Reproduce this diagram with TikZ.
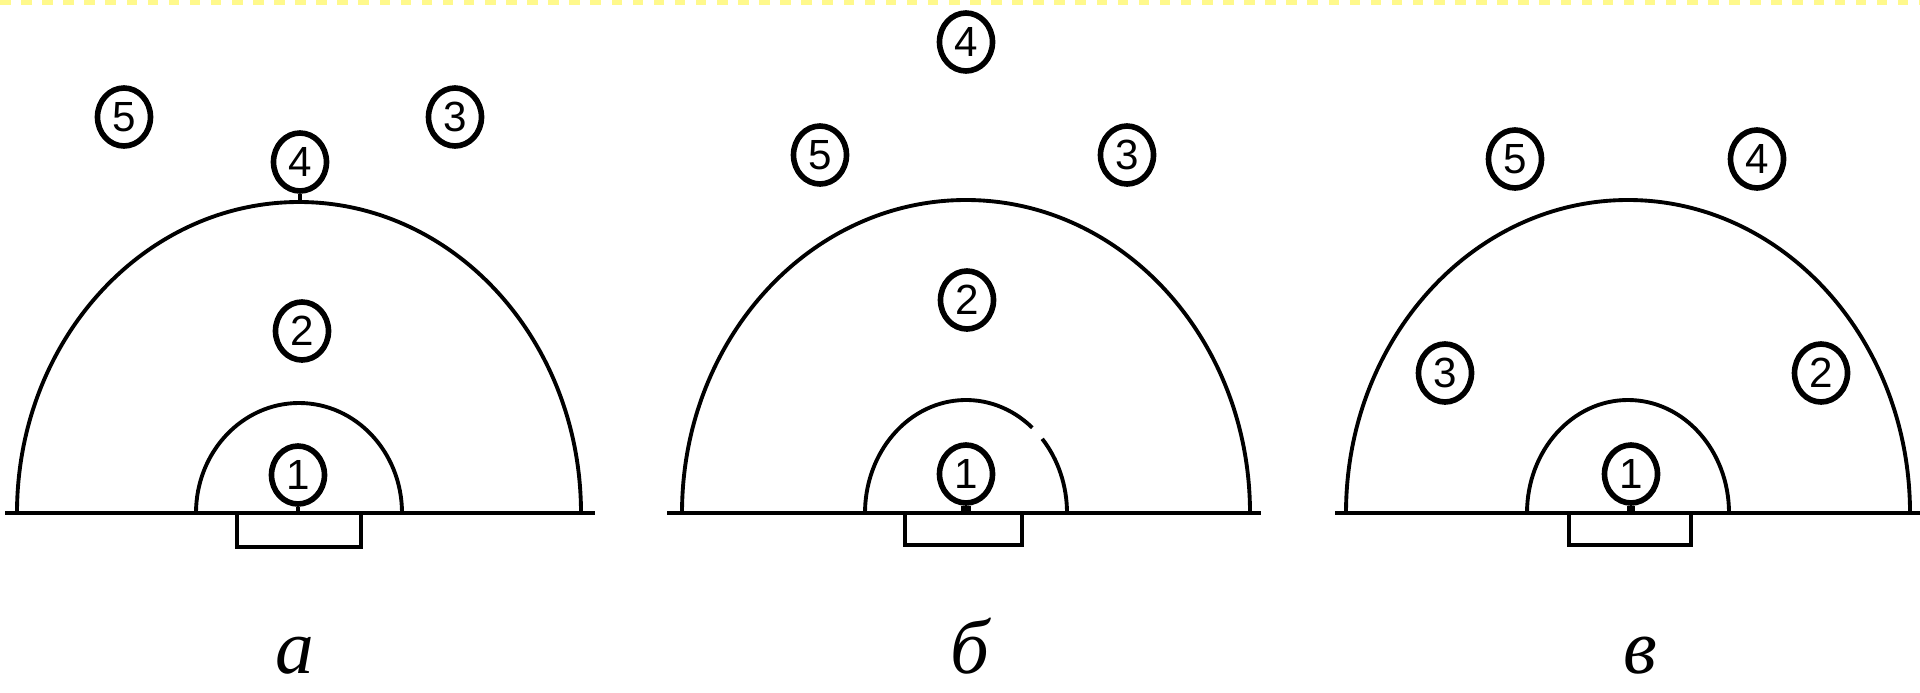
\documentclass[tikz,border=0pt]{standalone}
\usepackage{fontspec}
\setmainfont{Liberation Serif}
\newfontfamily\digitfont{Liberation Sans}
\usetikzlibrary{shapes.geometric}
\begin{document}
\begin{tikzpicture}[num/.style={ellipse, draw, line width=1.6pt, minimum width=0.53cm, minimum height=0.58cm, inner sep=0pt, font=\digitfont\fontsize{12}{12}\selectfont},
    lbl/.style={anchor=base, inner sep=0pt, font=\itshape\fontsize{22}{22}\selectfont},
    every path/.style={line width=1.1pt}]
    \useasboundingbox (0,0) rectangle (19.2,6.92);
    \draw[yellow!45, dashed, line width=2pt] (0,6.91) -- (19.2,6.91);
    % a
    \draw (0.05,1.79) -- (5.95,1.79);
    \draw (5.81,1.79) arc[start angle=0, end angle=180, x radius=2.82, y radius=3.11];
    \draw (4.02,1.79) arc[start angle=0, end angle=180, x radius=1.03, y radius=1.10];
    \draw (2.37,1.79) rectangle (3.61,1.45);
    \coordinate (aB) at (2.99,1.79);
    \coordinate (aT) at (2.99,4.90);
    \node[num] (a1) at (2.98,2.17) {1};
    \node[num] (a2) at (3.02,3.61) {2};
    \node[num] (a3) at (4.55,5.75) {3};
    \node[num] (a4) at (3.00,5.30) {4};
    \node[num] (a5) at (1.24,5.75) {5};
    \draw (a1.south) -- (a1 |- aB);
    \draw (a4.south) -- (a4 |- aT);
    \node[lbl] (la) at (2.95,0.19) {а};
    % b
    \draw (6.67,1.79) -- (12.61,1.79);
    \draw (12.50,1.79) arc[start angle=0, end angle=180, x radius=2.84, y radius=3.13];
    \draw (10.67,1.79) arc[start angle=0, end angle=41, x radius=1.01, y radius=1.13];
    \draw (9.66,1.79) ++(49:1.01 and 1.13) arc[start angle=49, end angle=180, x radius=1.01, y radius=1.13];
    \draw (9.05,1.79) rectangle (10.22,1.47);
    \coordinate (bB) at (9.66,1.79);
    \node[num] (b1) at (9.66,2.18) {1};
    \node[num] (b2) at (9.67,3.92) {2};
    \node[num] (b3) at (11.27,5.37) {3};
    \node[num] (b4) at (9.66,6.50) {4};
    \node[num] (b5) at (8.20,5.37) {5};
    \draw[line width=3pt] (b1.south) -- (b1 |- bB);
    \node[lbl] (lb) at (9.70,0.19) {б};
    % v
    \draw (13.35,1.79) -- (19.20,1.79);
    \draw (19.10,1.79) arc[start angle=0, end angle=180, x radius=2.82, y radius=3.13];
    \draw (17.29,1.79) arc[start angle=0, end angle=180, x radius=1.01, y radius=1.13];
    \draw (15.69,1.79) rectangle (16.91,1.47);
    \coordinate (vB) at (16.28,1.79);
    \node[num] (v1) at (16.31,2.18) {1};
    \node[num] (v2) at (18.21,3.19) {2};
    \node[num] (v3) at (14.45,3.19) {3};
    \node[num] (v4) at (17.57,5.33) {4};
    \node[num] (v5) at (15.15,5.33) {5};
    \draw[line width=2.5pt] (v1.south) -- (v1 |- vB);
    \node[lbl] (lv) at (16.40,0.19) {в};
\end{tikzpicture}
\end{document}
